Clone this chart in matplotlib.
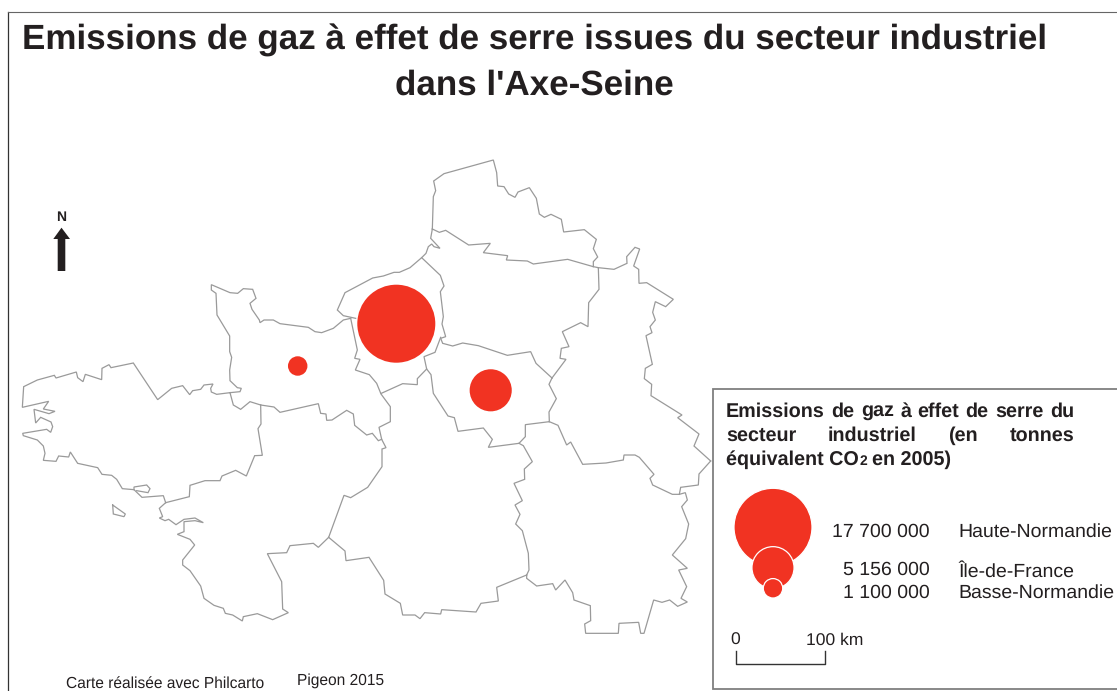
import numpy as np
import matplotlib
matplotlib.use("Agg")
import matplotlib.pyplot as plt
from matplotlib.patches import Circle, Rectangle, Polygon

plt.rcParams['font.family'] = ['Liberation Sans', 'DejaVu Sans']
plt.rcParams['text.hinting'] = 'no_hinting'

# =========================
# DATA
# =========================
TITLE_LINES = ["Emissions de gaz à effet de serre issues du secteur industriel", "dans l'Axe-Seine"]
REGIONS = ["Haute-Normandie", "Île-de-France", "Basse-Normandie"]
EMISSIONS = [17700000, 5156000, 1100000]
EMISSION_LABELS = ["17 700 000", "5 156 000", "1 100 000"]
MAP_X = [396.3, 490.7, 297.7]
MAP_Y = [323.7, 390.3, 366.0]
LEGEND_Y = [527.3, 567.7, 588.3]

# outlines traced on enlarged crops: (offset x, offset y, points at 3x)
OFF_A = (0, 270)
OFF_B = (320, 150)
OFF_C = (320, 400)

brittany_coast = [(690,368),(650,373),(634,366),(632,355),(639,342),(612,345),(602,358),(578,362),(569,374),(548,347),(515,355),(473,389),(400,279),(333,293),(327,284),(306,295),(305,329),(256,313),(249,335),(233,323),(229,306),(168,324),(163,316),(112,330),(71,350),(67,412),(146,394),(130,417),(165,424),(147,431),(102,418),(107,459),(122,442),(153,456),(158,470),(152,487),(140,478),(68,490),(70,497),(112,510),(130,528),(135,550),(130,571),(168,574),(176,558),(206,561),(211,546),(233,580),(293,593),(306,613),(335,616),(350,628),(367,656),(402,659),(426,682),(490,677),(497,698)]
brittany_south = [(497,698),(568,680),(570,646),(615,632),(660,632),(666,618),(707,601),(739,618),(764,557),(787,556),(774,476),(783,462),(782,405)]
morbihan = [(402,659),(402,651),(440,645),(450,656),(444,668),(410,662)]
belle_ile = [(338,705),(376,732),(372,740),(340,732),(338,705)]
brittany_east = [(690,368),(700,405),(722,418),(750,395),(782,405)]
normandy_south = [(782,405),(822,411),(840,427),(955,401),(962,430),(978,432),(980,451),(996,450),(1040,421),(1060,432),(1064,466),(1100,495),(1117,490),(1135,512),(1145,508)]
normandy_coast = [(690,368),(720,365),(724,355),(712,353),(690,332),(689,300),(695,262),(689,245),(689,198),(651,135),(648,70),(634,60),(634,44),(690,68),(713,70),(730,56),(758,58),(768,85),(750,100),(756,118),(778,150),(780,158),(792,150),(820,150),(840,161),(925,172),(945,185),(965,188),(1000,175),(1030,150),(1052,145)]
normandy_inner = [(1052,145),(1072,240),(1064,265),(1080,268),(1066,300),(1108,314),(1130,340),(1143,372),(1171,410),(1171,455),(1137,472),(1145,508),(1158,533),(1146,537),(1146,590),(1103,652),(1052,683),(1032,676),(986,802)]
loire_coast = [(497,698),(478,715),(488,740),(478,744),(495,752),(506,748),(528,764),(552,748),(585,744),(610,758),(585,752),(552,755),(552,785),(532,793),(570,808),(584,825),(548,870),(548,885),(570,902),(602,948),(612,985),(642,1006),(670,1015),(676,1030),(698,1035),(727,1053),(730,1040),(772,1031),(818,1049),(865,1028),(848,1017),(845,935),(802,851),(860,848),(870,827),(940,820),(955,832),(986,802)]

hn_coast = [(107,505),(70,497),(52,480),(75,428),(158,384),(190,378),(222,367),(238,367),(270,353),(305,323),(318,310),(325,290),(335,282),(342,290),(360,295),(332,265),(337,237)]
nord_coast = [(337,237),(340,140),(347,122),(341,93),(372,71),(520,30),(530,68),(533,108),(552,110),(566,132),(585,142),(594,126),(628,113),(649,145),(658,192),(673,202),(693,193),(724,208),(731,246),(793,239),(829,268),(820,296),(833,321),(820,335),(820,350)]
nord_south = [(337,237),(358,247),(377,241),(446,285),(511,280),(490,308),(563,317),(559,330),(622,333),(640,342),(743,328),(820,350),(835,353)]
champagne_east = [(835,353),(882,358),(921,340),(920,320),(945,292),(959,297),(941,348),(956,358),(957,400),(980,398),(1060,448),(1037,470),(1006,455),(998,487),(1006,510),(990,530),(996,548),(978,557),(997,643),(976,655),(973,686),(995,703),(993,737),(1086,795),(1073,803),(1137,852),(1122,888),(1172,933)]
picardie_east = [(835,353),(837,418),(806,458),(804,530),(782,518),(727,545),(747,590),(724,595),(720,625),(738,628),(696,684)]
idf_north = [(696,684),(648,640),(632,605),(562,616),(475,587),(428,579),(398,588),(368,580),(362,565),(377,560),(366,522),(370,500),(361,425),(372,408),(361,376),(305,323)]
hn_south = [(362,562),(345,607),(312,620),(320,657),(292,686),(292,704),(248,701),(184,730)]
idf_south = [(320,657),(333,674),(340,730),(384,798),(403,803),(414,844),(490,834),(517,868),(505,892),(597,880),(616,860),(616,824),(688,815)]
idf_east = [(696,684),(687,703),(709,746),(687,786),(688,815)]

centre_east = [(597,130),(610,137),(637,185),(613,207),(614,238),(582,250),(607,302),(585,315),(600,343),(587,372),(607,392),(625,460),(627,510),(620,525)]
centre_south = [(620,525),(530,562),(535,603),(483,610),(468,636),(365,629),(362,642),(314,638),(300,656),(285,645),(248,645),(241,610),(195,582),(191,541),(147,472),(78,482),(75,453),(26,412)]
bourgogne = [(688,65),(714,76),(740,135),(752,126),(788,193),(858,189),(910,180),(912,165),(945,165),(958,172),(1002,223),(990,235),(998,255),(1057,283),(1078,283),(1096,278),(1102,300),(1085,320),(1106,372),(1097,416),(1057,465),(1102,505),(1076,510),(1100,560),(1083,595),(1102,606),(1073,619),(1049,600),(1026,607),(1001,600),(972,700),(962,700),(956,667),(897,670),(895,700),(797,700),(794,672),(812,662),(811,617),(762,600),(758,578),(735,540),(707,570),(698,551),(650,558),(620,535),(620,525)]
champagne_south = [(1172,183),(1137,222),(1135,255),(1082,262),(1078,283)]

OUTLINES = [
    (OFF_A, [brittany_coast, brittany_south, morbihan, belle_ile, brittany_east, normandy_south,
             normandy_coast, normandy_inner, loire_coast]),
    (OFF_B, [hn_coast, nord_coast, nord_south, champagne_east, picardie_east, idf_north,
             hn_south, idf_south, idf_east]),
    (OFF_C, [centre_east, centre_south, bourgogne, champagne_south]),
]

RED = '#f13322'
GREY = '#9a9a9a'
TEXT = '#231f20'

# r = 39 px for the largest value, area proportional to value
RADIUS = [39 * np.sqrt(v / EMISSIONS[0]) for v in EMISSIONS]


def justify(ax, fig, words, x0, x1, y, **kw):
    """ Place words so they fill x0..x1, like a justified paragraph """
    items = [ax.text(x0, y, w, ha='left', va='baseline', **kw) for w in words]
    r = fig.canvas.get_renderer()
    inv = ax.transData.inverted()
    widths = []
    for t in items:
        bb = t.get_window_extent(r)
        widths.append(inv.transform((bb.x1, 0))[0] - inv.transform((bb.x0, 0))[0])
    gap = (x1 - x0 - sum(widths)) / (len(words) - 1)
    x = x0
    for t, w in zip(items, widths):
        t.set_x(x)
        x += w + gap


def text_end(ax, fig, t):
    bb = t.get_window_extent(fig.canvas.get_renderer())
    return ax.transData.inverted().transform((bb.x1, 0))[0]


fig = plt.figure(figsize=(11.17, 6.91), dpi=100)
ax = fig.add_axes([0, 0, 1, 1])
ax.set_xlim(0, 1117)
ax.set_ylim(691, 0)
ax.axis('off')

# page frame
ax.plot([7.5, 7.5], [691, 11.5], color='#333333', lw=0.9)
ax.plot([7.5, 1117], [11.5, 11.5], color='#666666', lw=0.8)

# title
ax.text(535, 50, TITLE_LINES[0], ha='center', va='baseline', fontsize=25.2, fontweight='bold', color=TEXT)
ax.text(534, 95, TITLE_LINES[1], ha='center', va='baseline', fontsize=25.2, fontweight='bold', color=TEXT)

# map
for (ox, oy), lines in OUTLINES:
    for pts in lines:
        arr = np.array(pts, dtype=float)
        ax.plot(ox + arr[:, 0] / 3, oy + arr[:, 1] / 3, color=GREY, lw=0.9, solid_joinstyle='miter', zorder=2)

for x, y, r in zip(MAP_X, MAP_Y, RADIUS):
    ax.add_patch(Circle((x, y), r, facecolor=RED, edgecolor='none', zorder=3))

# north arrow
ax.add_patch(Polygon([(61.5, 227.7), (70, 239), (65.3, 239), (65.3, 271), (57.7, 271), (57.7, 239), (53.3, 239)],
                     closed=True, facecolor='#231f20', edgecolor='none'))
ax.text(61.3, 217, "N", ha='center', va='center', fontsize=10, fontweight='bold', color=TEXT)

# legend box
ax.add_patch(Rectangle((713, 389), 410, 300, facecolor='white', edgecolor='#7f7f7f', lw=1.3, zorder=4))
kw = dict(fontsize=14.2, fontweight='bold', color=TEXT, zorder=5)
justify(ax, fig, "Emissions de gaz à effet de serre du".split(), 726, 1074, 417, **kw)
justify(ax, fig, "secteur industriel (en tonnes".split(), 726, 1074, 441, **kw)
t1 = ax.text(726, 465, "équivalent CO", ha='left', va='baseline', **kw)
x_end = text_end(ax, fig, t1)
t2 = ax.text(x_end + 1, 465, "2", ha='left', va='baseline', fontsize=10, fontweight='bold', color=TEXT, zorder=5)
x_end = text_end(ax, fig, t2)
ax.text(x_end + 5, 465, "en 2005)", ha='left', va='baseline', **kw)

for y, r in zip(LEGEND_Y, RADIUS):
    ax.add_patch(Circle((773, y), r, facecolor=RED, edgecolor='white', lw=0.9, zorder=5))

NUM_Y = [536.5, 575, 598]
NAME_Y = [536.5, 577, 598]
for lab, name, y1, y2 in zip(EMISSION_LABELS, REGIONS, NUM_Y, NAME_Y):
    ax.text(930, y1, lab, ha='right', va='baseline', fontsize=14, color=TEXT, zorder=5)
    ax.text(958, y2, name, ha='left', va='baseline', fontsize=14, color=TEXT, zorder=5)

# scale bar
ax.plot([736, 736, 825, 825], [651, 664, 664, 651], color='#333333', lw=1.0, zorder=5)
ax.text(735, 645, "0", ha='center', va='baseline', fontsize=12.6, color=TEXT, zorder=5)
ax.text(806, 645, "100 km", ha='left', va='baseline', fontsize=12.6, color=TEXT, zorder=5)

# credits
ax.text(66, 687.5, "Carte réalisée avec Philcarto", ha='left', va='baseline', fontsize=11.2, color=TEXT)
ax.text(297, 685, "Pigeon 2015", ha='left', va='baseline', fontsize=11.2, color=TEXT)

fig.savefig("out.png", dpi=100)
